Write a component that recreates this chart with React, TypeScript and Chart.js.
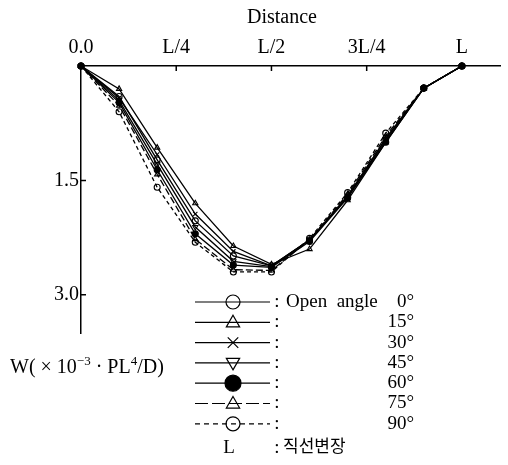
import React, { useEffect, useRef } from "react";
import { Chart, registerables } from "chart.js";

Chart.register(...registerables);

// ---- data ----
const positions = [0, 0.1, 0.2, 0.3, 0.4, 0.5, 0.6, 0.7, 0.8, 0.9, 1.0];
const xTickValues = [0, 0.25, 0.5, 0.75, 1.0];
const xTickLabels = ["0.0", "L/4", "L/2", "3L/4", "L"];
const yTickValues = [1.5, 3.0];

const angleLabels = ["0°", "15°", "30°", "45°", "60°", "75°", "90°"];
const w0 = [0, 0.4, 1.23, 2.03, 2.49, 2.62, 2.28, 1.72, 0.95, 0.29, 0];
const w15 = [0, 0.3, 1.07, 1.8, 2.36, 2.6, 2.4, 1.76, 1.0, 0.29, 0];
const w30 = [0, 0.42, 1.16, 1.94, 2.43, 2.62, 2.28, 1.72, 0.98, 0.29, 0];
const w45 = [0, 0.45, 1.29, 2.11, 2.56, 2.63, 2.28, 1.7, 0.96, 0.29, 0];
const w60 = [0, 0.48, 1.36, 2.2, 2.61, 2.64, 2.3, 1.73, 1.0, 0.29, 0];
const w75 = [0, 0.52, 1.42, 2.27, 2.67, 2.68, 2.28, 1.68, 0.92, 0.29, 0];
const w90 = [0, 0.6, 1.59, 2.31, 2.7, 2.7, 2.26, 1.66, 0.88, 0.29, 0];

const seriesValues = [w0, w15, w30, w45, w60, w75, w90];
const seriesMarkers = ["circle", "triangle", "crossRot", "triangleDown", "filled", "triangle", "circle"];
const seriesDashes: number[][] = [[], [], [], [], [], [7, 3], [4, 3]];

const FONT = "'Liberation Serif', 'Times New Roman', 'Noto Sans CJK KR', serif";

function drawMarker(ctx: CanvasRenderingContext2D, kind: string, x: number, y: number, r: number) {
  ctx.save();
  ctx.setLineDash([]);
  ctx.beginPath();
  if (kind === "circle" || kind === "filled") {
    ctx.arc(x, y, r, 0, Math.PI * 2);
    if (kind === "filled") {
      ctx.fillStyle = "#000";
      ctx.fill();
    }
    ctx.stroke();
  } else if (kind === "triangle") {
    ctx.moveTo(x, y - r);
    ctx.lineTo(x + r * 0.95, y + r * 0.65);
    ctx.lineTo(x - r * 0.95, y + r * 0.65);
    ctx.closePath();
    ctx.stroke();
  } else if (kind === "triangleDown") {
    ctx.moveTo(x, y + r);
    ctx.lineTo(x + r * 0.95, y - r * 0.65);
    ctx.lineTo(x - r * 0.95, y - r * 0.65);
    ctx.closePath();
    ctx.stroke();
  } else if (kind === "crossRot") {
    const d = r * 0.75;
    ctx.moveTo(x - d, y - d);
    ctx.lineTo(x + d, y + d);
    ctx.moveTo(x + d, y - d);
    ctx.lineTo(x - d, y + d);
    ctx.stroke();
  }
  ctx.restore();
}

const decorPlugin = {
  id: "decor",
  afterDraw(chart: any) {
    const ctx: CanvasRenderingContext2D = chart.ctx;
    const area = chart.chartArea;
    const xs = chart.scales.x;
    const ys = chart.scales.y;
    ctx.save();
    ctx.strokeStyle = "#000";
    ctx.fillStyle = "#000";
    ctx.lineWidth = 1.5;
    // inside tick marks
    ctx.beginPath();
    xTickValues.slice(1, 4).forEach((v) => {
      const px = xs.getPixelForValue(v);
      ctx.moveTo(px, area.top);
      ctx.lineTo(px, area.top + 5);
    });
    yTickValues.forEach((v) => {
      const py = ys.getPixelForValue(v);
      ctx.moveTo(area.left, py);
      ctx.lineTo(area.left + 5, py);
    });
    ctx.stroke();

    // x title
    ctx.font = `20px ${FONT}`;
    ctx.textAlign = "center";
    ctx.textBaseline = "alphabetic";
    ctx.fillText("Distance", area.left + 201, 23);

    // y title
    let tx = 10;
    const ty = 373;
    ctx.textAlign = "left";
    const part = (s: string, size: number, dy: number) => {
      ctx.font = `${size}px ${FONT}`;
      ctx.fillText(s, tx, ty + dy);
      tx += ctx.measureText(s).width;
    };
    part("W( × 10", 20, 0);
    part("−3", 13, -8);
    part(" · PL", 20, 0);
    part("4", 13, -8);
    part("/D)", 20, 0);

    // legend
    const lineL = area.left + 114;
    const lineR = area.left + 189;
    const mx = area.left + 152;
    const colonX = area.left + 196;
    const numR = area.left + 333;
    ctx.lineWidth = 1.2;
    angleLabels.forEach((lab, i) => {
      const y = area.top + 236 + i * 20.3;
      ctx.save();
      ctx.setLineDash(i === 6 ? [5, 4] : i === 5 ? [13, 4] : []);
      ctx.beginPath();
      ctx.moveTo(lineL, y);
      ctx.lineTo(lineR, y);
      ctx.stroke();
      ctx.restore();
      drawMarker(ctx, seriesMarkers[i], mx, y, seriesMarkers[i] === "filled" ? 8 : 7);
      ctx.font = `19px ${FONT}`;
      ctx.textBaseline = "middle";
      ctx.textAlign = "center";
      ctx.fillText(":", colonX, y);
      if (i === 0) {
        ctx.textAlign = "left";
        ctx.fillText("Open  angle", area.left + 205, y);
      }
      ctx.textAlign = "right";
      ctx.fillText(lab, numR, y);
    });
    const ly = area.top + 236 + 7 * 20.8;
    ctx.font = `19px ${FONT}`;
    ctx.textAlign = "center";
    ctx.fillText("L", mx - 4, ly);
    ctx.fillText(":", colonX, ly);
    ctx.font = `17px ${FONT}`;
    ctx.textAlign = "left";
    ctx.fillText("직선변장", area.left + 202, ly);
    ctx.restore();
  },
};

export default function App() {
  const ref = useRef<HTMLCanvasElement>(null);
  useEffect(() => {
    const datasets = seriesValues.map((vals, i) => ({
      label: angleLabels[i],
      data: positions.map((x, j) => ({ x, y: vals[j] })),
      borderColor: "#000",
      borderWidth: 1.3,
      borderDash: seriesDashes[i],
      pointStyle: seriesMarkers[i] === "filled" ? "circle" : seriesMarkers[i] === "triangleDown" ? "triangle" : seriesMarkers[i],
      rotation: seriesMarkers[i] === "triangleDown" ? 180 : 0,
      pointRadius: 3,
      pointBorderWidth: 1.1,
      pointBorderColor: "#000",
      pointBackgroundColor: seriesMarkers[i] === "filled" ? "#000" : "rgba(255,255,255,0)",
      fill: false,
      tension: 0,
      clip: false as any,
    }));
    const chart = new Chart(ref.current!, {
      type: "line",
      data: { datasets },
      plugins: [decorPlugin],
      options: {
        animation: false,
        responsive: false,
        layout: { padding: { left: 0, top: 0, right: 8, bottom: 132 } },
        plugins: { legend: { display: false }, tooltip: { enabled: false } },
        scales: {
          x: {
            type: "linear",
            position: "top",
            min: 0,
            max: 1.1,
            afterBuildTicks: (s: any) => {
              s.ticks = xTickValues.map((v) => ({ value: v }));
            },
            afterFit: (s: any) => {
              s.height = 66;
            },
            ticks: {
              callback: (v: any) => {
                const k = xTickValues.indexOf(Number(v));
                return k >= 0 ? xTickLabels[k] : "";
              },
              font: { family: FONT, size: 20 },
              color: "#000",
              padding: 6,
              maxRotation: 0,
              autoSkip: false,
            },
            grid: { display: false, drawTicks: false },
            border: { display: true, color: "#000", width: 1.5 },
          },
          y: {
            type: "linear",
            reverse: true,
            min: 0,
            max: 3.5,
            afterBuildTicks: (s: any) => {
              s.ticks = yTickValues.map((v) => ({ value: v }));
            },
            afterFit: (s: any) => {
              s.width = 81;
            },
            ticks: {
              callback: (v: any) => Number(v).toFixed(1),
              font: { family: FONT, size: 20 },
              color: "#000",
              padding: 2,
              autoSkip: false,
            },
            grid: { display: false, drawTicks: false },
            border: { display: true, color: "#000", width: 1.5 },
          },
        },
      },
    } as any);
    return () => chart.destroy();
  }, []);
  return (
    <div style={{ position: "fixed", left: 0, top: 0, width: 508, height: 465, background: "#fff" }}>
      <canvas ref={ref} width={508} height={465} style={{ display: "block", width: 508, height: 465 }} />
    </div>
  );
}
